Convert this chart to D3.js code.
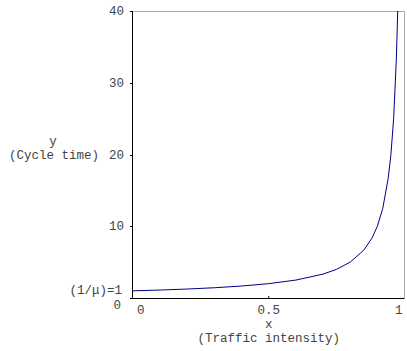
<!DOCTYPE html>
<html>
<head>
<meta charset="utf-8">
<script src="https://cdn.jsdelivr.net/npm/d3@7"></script>
<style>
  body { margin: 0; background: #fff; }
  text { font-family: 'Liberation Mono', 'DejaVu Sans Mono', monospace; font-size: 12.5px; fill: #444; }
</style>
</head>
<body>
<div id="chart"></div>
<script>
// traffic intensity (x) vs cycle time (y)
const xValues = [0, 0.1, 0.2, 0.3, 0.4, 0.5, 0.6, 0.7, 0.75, 0.8, 0.85, 0.88, 0.9, 0.92, 0.94, 0.95, 0.96, 0.97, 0.975]
const yValues = [1, 1.11, 1.25, 1.43, 1.67, 2, 2.5, 3.33, 4, 5, 6.67, 8.33, 10, 12.5, 16.7, 20, 25, 33.3, 40]
const yTicks = [10, 20, 30, 40]
const xTicks = [0, 0.5, 1]

const data = xValues.map((d, i) => ({ x: d, y: yValues[i] }))

let width = 407, height = 351
let margin = { top: 11, right: 2, bottom: 53, left: 133 }

let svg = d3.select('#chart').append('svg')
  .attr('width', width)
  .attr('height', height)

let x = d3.scaleLinear().domain([0, 1]).range([margin.left, width - margin.right - 0.5])
let y = d3.scaleLinear().domain([0, 40]).range([height - margin.bottom, margin.top])

// frame: gray top/right, black left/bottom
svg.append('path')
  .attr('d', `M${x(0)},${y(40) + 0.5}H${x(1)}V${y(0)}`)
  .attr('fill', 'none')
  .attr('stroke', '#aaa')

let line = d3.line().x(d => x(d.x)).y(d => y(d.y))
svg.append('path')
  .datum(data)
  .attr('d', line)
  .attr('fill', 'none')
  .attr('stroke', '#000088')
  .attr('stroke-width', 1)

svg.append('line')
  .attr('x1', x(0) - 0.5).attr('x2', x(0) - 0.5)
  .attr('y1', y(40)).attr('y2', y(0) + 1)
  .attr('stroke', '#000')
svg.append('line')
  .attr('x1', x(0) - 1).attr('x2', x(1))
  .attr('y1', y(0) + 0.5).attr('y2', y(0) + 0.5)
  .attr('stroke', '#000')

// y ticks
let yt = svg.append('g')
yt.selectAll('line').data(yTicks.concat([0])).join('line')
  .attr('x1', x(0) - 3).attr('x2', x(0))
  .attr('y1', d => Math.round(y(d)) + 0.5).attr('y2', d => Math.round(y(d)) + 0.5)
  .attr('stroke', '#000')
yt.selectAll('text').data(yTicks).join('text')
  .attr('x', x(0) - 9)
  .attr('y', d => y(d) + 4)
  .attr('text-anchor', 'end')
  .text(d => d)
svg.append('text').attr('x', x(0) - 12).attr('y', y(0) + 11)
  .attr('text-anchor', 'end').text('0')
svg.append('text').attr('x', x(0) - 11).attr('y', y(1) + 3)
  .attr('text-anchor', 'end').text('(1/μ)=1')

// x ticks
svg.append('g').selectAll('line').data([0.5]).join('line')
  .attr('x1', d => x(d)).attr('x2', d => x(d))
  .attr('y1', y(0) - 2).attr('y2', y(0))
  .attr('stroke', '#000')
svg.append('g').selectAll('text').data(xTicks).join('text')
  .attr('x', d => d === 0 ? x(d) + 4 : d === 1 ? x(d) - 2 : x(d))
  .attr('y', y(0) + 16)
  .attr('text-anchor', d => d === 0 ? 'start' : d === 1 ? 'end' : 'middle')
  .text(d => d)

// axis titles
svg.append('text').attr('x', x(0.5)).attr('y', y(0) + 30)
  .attr('text-anchor', 'middle').text('x')
svg.append('text').attr('x', x(0.5)).attr('y', y(0) + 44)
  .attr('text-anchor', 'middle').text('(Traffic intensity)')
svg.append('text').attr('x', 53).attr('y', y(20) - 10)
  .attr('text-anchor', 'middle').text('y')
svg.append('text').attr('x', 54).attr('y', y(20) + 4)
  .attr('text-anchor', 'middle').text('(Cycle time)')
</script>
</body>
</html>
